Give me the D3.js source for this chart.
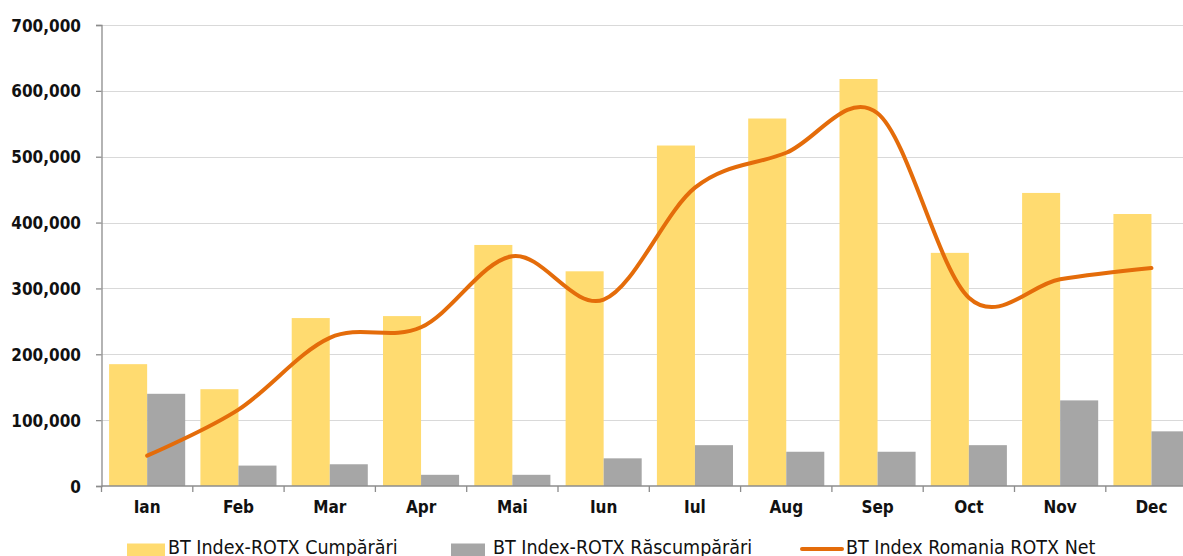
<!DOCTYPE html>
<html><head><meta charset="utf-8">
<script src="https://cdn.jsdelivr.net/npm/d3@7"></script>
<style>
html,body{margin:0;padding:0;background:#fff;overflow:hidden}
svg{display:block}
.ax{font-family:"DejaVu Sans Condensed","DejaVu Sans",sans-serif;font-stretch:condensed;font-weight:bold;font-size:17px;fill:#111}
.lg{font-family:"DejaVu Sans Condensed","DejaVu Sans",sans-serif;font-stretch:condensed;font-size:16px;fill:#111}
</style></head>
<body>
<script>
const months = ["Ian","Feb","Mar","Apr","Mai","Iun","Iul","Aug","Sep","Oct","Nov","Dec"];
const buy  = [185000,147000,255000,258000,366000,326000,517000,558000,618000,354000,445000,413000];
const sell = [140000,31000,33000,17000,17000,42000,62000,52000,52000,62000,130000,83000];
const net  = [46000,116000,225000,241000,349000,283000,453000,506000,566000,286000,314000,331000];
const yTicks = [0,100000,200000,300000,400000,500000,600000,700000];
const seriesNames = ["BT Index-ROTX Cumpărări","BT Index-ROTX Răscumpărări","BT Index Romania ROTX Net"];

const W = 1183, H = 556;
const plotLeft = 101.5, plotBottom = 486, plotTop = 25, step = 91.3;
const svg = d3.select("body").append("svg").attr("width", W).attr("height", H);

const x = d3.scaleBand().domain(months).range([plotLeft, plotLeft + step*months.length]).padding(0);
const x1 = d3.scaleBand().domain(["buy","sell"]).range([0, x.bandwidth()]).paddingInner(0).paddingOuter(0.2);
const y = d3.scaleLinear().domain([0,700000]).range([plotBottom, plotTop]);

// gridlines
svg.append("g").selectAll("line").data(yTicks.filter(d=>d>0)).join("line")
  .attr("x1", plotLeft).attr("x2", W).attr("y1", d=>Math.round(y(d))+0.5).attr("y2", d=>Math.round(y(d))+0.5)
  .attr("stroke", "#d9d9d9").attr("stroke-width", 1.2);

// bars
const colors = {buy:"#FFDB70", sell:"#A6A6A6"};
const g = svg.append("g");
months.forEach((m,i)=>{
  [["buy",buy[i]],["sell",sell[i]]].forEach(([k,v])=>{
    g.append("rect").attr("x", x(m)+x1(k)).attr("width", x1.bandwidth())
      .attr("y", y(v)).attr("height", y(0)-y(v)).attr("fill", colors[k]);
  });
});

// y axis
const yAxis = d3.axisLeft(y).tickValues(yTicks).tickFormat(d3.format(",")).tickSize(5.5).tickPadding(15);
const ya = svg.append("g").attr("transform", `translate(${plotLeft},0)`).call(yAxis);
ya.select(".domain").attr("stroke","#8c8c8c").attr("stroke-width",1.3);
ya.selectAll(".tick line").attr("stroke","#8c8c8c").attr("stroke-width",1.3);
ya.selectAll("text").attr("class","ax").attr("fill","#111").attr("dy","0.36em");

// x axis
const xa = svg.append("g").attr("transform", `translate(0,${plotBottom})`);
xa.append("line").attr("x1",plotLeft).attr("x2",W).attr("y1",0).attr("y2",0).attr("stroke","#8c8c8c").attr("stroke-width",1.3);
xa.selectAll("line.t").data(months).join("line").attr("class","t")
  .attr("x1",d=>x(d)).attr("x2",d=>x(d)).attr("y1",0).attr("y2",6).attr("stroke","#8c8c8c").attr("stroke-width",1.3);
xa.selectAll("text").data(months).join("text").attr("class","ax")
  .attr("x",d=>x(d)+x.bandwidth()/2).attr("y",27).attr("text-anchor","middle").text(d=>d);

// line
const line = d3.line().x((d,i)=>x(months[i])+x.bandwidth()/2).y(d=>y(d)).curve(d3.curveCatmullRom.alpha(0));
svg.append("path").datum(net).attr("d", line).attr("fill","none")
  .attr("stroke","#E46C0A").attr("stroke-width",4).attr("stroke-linecap","round").attr("stroke-linejoin","round");

// legend
const lg = svg.append("g");
lg.append("rect").attr("x",127).attr("y",543.5).attr("width",38).attr("height",13).attr("fill",colors.buy);
lg.append("rect").attr("x",451).attr("y",543.5).attr("width",34).attr("height",13).attr("fill",colors.sell);
lg.append("line").attr("x1",802).attr("x2",842).attr("y1",549).attr("y2",549)
  .attr("stroke","#E46C0A").attr("stroke-width",4).attr("stroke-linecap","round");
const lgPos = [[168,230],[493,259],[846,249]];
const lts = lgPos.map((p,i)=>lg.append("text").attr("class","lg").attr("x",p[0]).attr("y",554).text(seriesNames[i]));
let ratio = 0;
lts.forEach((t,i)=>{ ratio += lgPos[i][1]/t.node().getComputedTextLength(); });
ratio /= lts.length;
lts.forEach(t=>t.style("font-size", (16*ratio).toFixed(2)+"px"));
</script>
</body></html>
